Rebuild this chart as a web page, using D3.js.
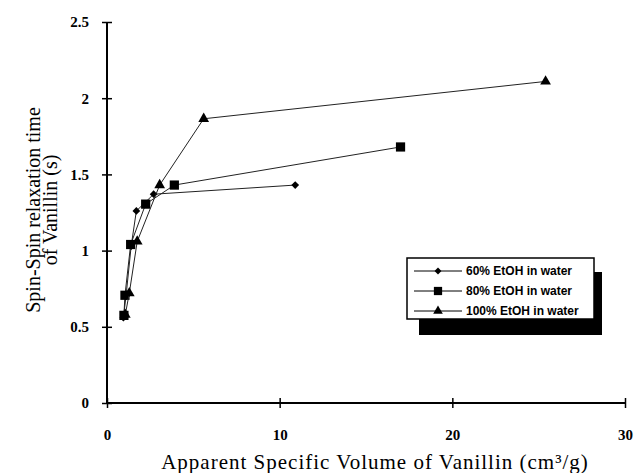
<!DOCTYPE html>
<html>
<head>
<meta charset="utf-8">
<script src="https://cdn.jsdelivr.net/npm/d3@7"></script>
<style>
  body { margin: 0; background: #fff; }
  #chart { width: 636px; height: 473px; }
</style>
</head>
<body>
<div id="chart"></div>
<script>
// data
const seriesNames = ["60% EtOH in water", "80% EtOH in water", "100% EtOH in water"]
const x60 = [0.95, 1.1, 1.4, 1.7, 2.7, 10.9]
const y60 = [0.56, 0.70, 1.03, 1.26, 1.37, 1.43]
const x80 = [0.98, 1.04, 1.37, 2.24, 3.9, 17.0]
const y80 = [0.575, 0.707, 1.04, 1.305, 1.43, 1.68]
const x100 = [1.06, 1.29, 1.75, 3.05, 5.6, 25.4]
const y100 = [0.58, 0.72, 1.06, 1.43, 1.865, 2.11]
const xTicks = [0, 10, 20, 30]
const yTicks = [0, 0.5, 1, 1.5, 2, 2.5]

const width = 636, height = 473
const margin = {left: 107, right: 11, top: 22, bottom: 70}
const serif = "'Liberation Serif', 'Times New Roman', serif"

const svg = d3.select("#chart")
  .append("svg")
  .attr("width", width)
  .attr("height", height)

const xScale = d3.scaleLinear().domain([0, 30]).range([margin.left, width - margin.right])
const yScale = d3.scaleLinear().domain([0, 2.5]).range([height - margin.bottom, margin.top])

// axes: ticks cross the line on both sides
const xAxis = svg.append("g")
  .attr("transform", `translate(0,${yScale(0)})`)
  .call(d3.axisBottom(xScale).tickValues(xTicks).tickSize(5).tickFormat(d3.format("d")))
  .attr("font-family", serif)
  .attr("font-size", 15)
  .attr("font-weight", "bold")
xAxis.selectAll(".tick line").attr("y1", -5).attr("stroke-width", 1.5)
xAxis.select(".domain").attr("d", `M${xScale(0)},0H${xScale(30)}`).attr("stroke-width", 2)
xAxis.selectAll(".tick text")
  .attr("y", 26)
  .attr("fill", "#000")

const yAxis = svg.append("g")
  .attr("transform", `translate(${xScale(0)},0)`)
  .call(d3.axisLeft(yScale).tickValues(yTicks).tickSize(5).tickFormat(d => d))
  .attr("font-family", serif)
  .attr("font-size", 15)
  .attr("font-weight", "bold")
yAxis.selectAll(".tick line").attr("x1", 5).attr("stroke-width", 1.5)
yAxis.select(".domain").attr("d", `M0,${yScale(0)}V${yScale(2.5)}`).attr("stroke-width", 2)
yAxis.selectAll(".tick text")
  .attr("x", -18)
  .attr("fill", "#000")

// axis titles
svg.append("text")
  .attr("x", 375)
  .attr("y", 469)
  .attr("text-anchor", "middle")
  .attr("fill", "#000")
  .style("font-family", serif)
  .style("font-size", "21px")
  .style("letter-spacing", "1px")
  .text("Apparent Specific Volume of Vanillin (cm³/g)")

const yTitle = svg.append("text")
  .attr("transform", "translate(0,210) rotate(-90)")
  .attr("text-anchor", "middle")
  .attr("fill", "#000")
  .style("font-family", serif)
  .style("font-size", "20px")
yTitle.append("tspan").attr("x", 0).attr("y", 40).text("Spin-Spin relaxation time")
yTitle.append("tspan").attr("x", 0).attr("y", 57).text("of Vanillin (s)")

// series
const series = [
  {name: seriesNames[0], xs: x60, ys: y60, symbol: d3.symbolSquare, size: 30, rot: 45},
  {name: seriesNames[1], xs: x80, ys: y80, symbol: d3.symbolSquare, size: 85, rot: 0},
  {name: seriesNames[2], xs: x100, ys: y100, symbol: d3.symbolTriangle, size: 50, rot: 0}
]

const line = d3.line().x(d => xScale(d[0])).y(d => yScale(d[1]))

series.forEach(function (s) {
  const pts = s.xs.map((x, i) => [x, s.ys[i]])
  svg.append("path")
    .datum(pts)
    .attr("d", line)
    .attr("fill", "none")
    .attr("stroke", "#222")
    .attr("stroke-width", 1)

  svg.append("g")
    .selectAll("path")
    .data(pts)
    .join("path")
    .attr("d", d3.symbol().type(s.symbol).size(s.size))
    .attr("transform", d => `translate(${xScale(d[0])},${yScale(d[1])}) rotate(${s.rot})`)
    .attr("fill", "#000")
})

// legend with drop shadow
const lg = svg.append("g").attr("transform", "translate(407,258)")
lg.append("rect")
  .attr("x", 12).attr("y", 14)
  .attr("width", 183).attr("height", 63)
  .attr("fill", "#000")
lg.append("rect")
  .attr("x", 0).attr("y", 0)
  .attr("width", 187).attr("height", 61)
  .attr("fill", "#fff")
  .attr("stroke", "#000")
  .attr("stroke-width", 1.5)

series.forEach(function (s, i) {
  const yy = 13 + i * 20
  lg.append("line")
    .attr("x1", 7).attr("x2", 55)
    .attr("y1", yy).attr("y2", yy)
    .attr("stroke", "#000")
    .attr("stroke-width", 1)
  lg.append("path")
    .attr("d", d3.symbol().type(s.symbol).size(s.size * 0.8))
    .attr("transform", `translate(31,${yy}) rotate(${s.rot})`)
    .attr("fill", "#000")
  lg.append("text")
    .attr("x", 59)
    .attr("y", yy + 4)
    .style("font-family", "'Liberation Sans', Arial, sans-serif")
    .style("font-weight", "bold")
    .style("font-size", "12px")
    .text(s.name)
})
</script>
</body>
</html>
